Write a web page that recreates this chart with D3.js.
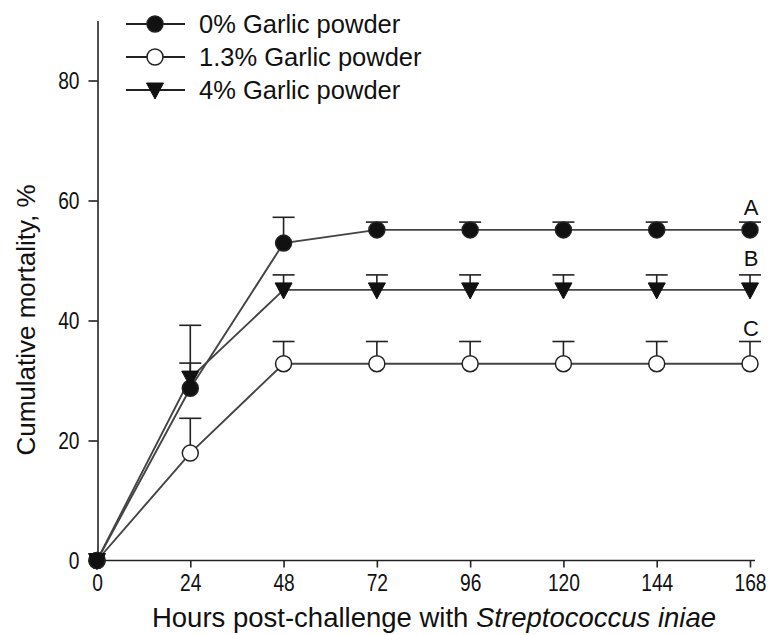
<!DOCTYPE html>
<html><head><meta charset="utf-8">
<script src="https://cdn.jsdelivr.net/npm/d3@7"></script>
<style>body{margin:0;background:#fff;} svg{display:block;font-family:"Liberation Sans",Arial,sans-serif;}</style>
</head><body>
<svg id="c" width="769" height="635"></svg>
<script>
const hours = [0, 24, 48, 72, 96, 120, 144, 168];
const seriesNames = ["0% Garlic powder", "1.3% Garlic powder", "4% Garlic powder"];
const values0 = [0, 28.7, 52.9, 55.1, 55.1, 55.1, 55.1, 55.1];
const err0 = [0, 10.5, 4.3, 1.3, 1.3, 1.3, 1.3, 1.3];
const values13 = [0, 17.9, 32.8, 32.8, 32.8, 32.8, 32.8, 32.8];
const err13 = [0, 5.8, 3.7, 3.7, 3.7, 3.7, 3.7, 3.7];
const values4 = [0, 30.4, 45.1, 45.1, 45.1, 45.1, 45.1, 45.1];
const err4 = [0, 2.5, 2.5, 2.5, 2.5, 2.5, 2.5, 2.5];
const yTicks = [0, 20, 40, 60, 80];
const groupLetters = ["A", "B", "C"];
const letterValues = [57.7, 49.3, 37.6];

const svg = d3.select("#c");
const x = d3.scaleLinear().domain([0, 168]).range([97, 750]);
const y = d3.scaleLinear().domain([0, 90]).range([560.5, 20.5]);

// axes
const xAxis = svg.append("g").attr("transform", "translate(0,560.5)")
  .call(d3.axisBottom(x).tickValues(hours).tickSize(7).tickSizeOuter(0).tickPadding(6));
xAxis.select(".domain").attr("d", `M${x(0)},0H755`);
const yAxis = svg.append("g").attr("transform", "translate(97.5,0)")
  .call(d3.axisLeft(y).tickValues(yTicks).tickSize(9).tickSizeOuter(0).tickPadding(9));
[xAxis, yAxis].forEach(g => {
  g.selectAll("path,line").attr("stroke", "#222").attr("stroke-width", 1.6);
  g.selectAll("text").attr("font-size", 24).attr("fill", "#111")
    .attr("font-family", "Liberation Sans, Arial, sans-serif")
    .each(function () {
      const w = this.getComputedTextLength();
      d3.select(this).attr("textLength", w * 0.8).attr("lengthAdjust", "spacingAndGlyphs");
    });
});

svg.append("text").attr("x", 434).attr("y", 627).attr("text-anchor", "middle")
  .attr("font-size", 27.5).attr("fill", "#111")
  .html('Hours post-challenge with <tspan font-style="italic">Streptococcus iniae</tspan>');
svg.append("text").attr("transform", "translate(35,320) rotate(-90)").attr("text-anchor", "middle")
  .attr("font-size", 26).attr("fill", "#111").text("Cumulative mortality, %");

const series = [
  {vals: values13, err: err13, type: "open"},
  {vals: values0, err: err0, type: "filled"},
  {vals: values4, err: err4, type: "tri"}
];
const line = d3.line().x((d, i) => x(hours[i])).y(d => y(d));

// lines
series.forEach(s => {
  svg.append("path").attr("d", line(s.vals)).attr("fill", "none")
    .attr("stroke", "#444").attr("stroke-width", 1.9);
});
// error bars
series.forEach(s => {
  s.vals.forEach((v, i) => {
    if (s.err[i] <= 0) return;
    const cx = x(hours[i]), top = y(v + s.err[i]);
    svg.append("line").attr("x1", cx).attr("x2", cx).attr("y1", y(v)).attr("y2", top).attr("stroke", "#222").attr("stroke-width", 1.6);
    svg.append("line").attr("x1", cx - 11).attr("x2", cx + 11).attr("y1", top).attr("y2", top).attr("stroke", "#222").attr("stroke-width", 1.6);
  });
});
function marker(g, type, cx, cy) {
  if (type === "tri") {
    g.append("path").attr("d", `M${cx - 8.5},${cy - 7}L${cx + 8.5},${cy - 7}L${cx},${cy + 9}Z`).attr("fill", "#111").attr("stroke", "#111").attr("stroke-width", 1);
  } else {
    g.append("circle").attr("cx", cx).attr("cy", cy).attr("r", 8)
      .attr("fill", type === "filled" ? "#111" : "#fff").attr("stroke", "#222").attr("stroke-width", 1.5);
  }
}
series.forEach(s => {
  s.vals.forEach((v, i) => marker(svg, s.type, x(hours[i]), y(v)));
});

// group letters
groupLetters.forEach((L, i) => {
  svg.append("text").attr("x", x(168) + 1).attr("y", y(letterValues[i]) + 1).attr("text-anchor", "middle")
    .attr("font-size", 22).attr("fill", "#111").text(L);
});

// legend
const legTypes = ["filled", "open", "tri"];
const legY = [24, 57, 90];
seriesNames.forEach((n, i) => {
  const g = svg.append("g");
  g.append("line").attr("x1", 126).attr("x2", 185).attr("y1", legY[i]).attr("y2", legY[i]).attr("stroke", "#222").attr("stroke-width", 1.8);
  marker(g, legTypes[i], 155, legY[i]);
  g.append("text").attr("x", 199).attr("y", legY[i] + 9).attr("font-size", 25.5).attr("fill", "#111").text(n);
});
</script>
</body></html>
